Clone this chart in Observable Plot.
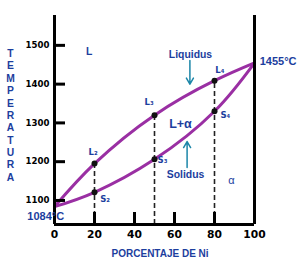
<!DOCTYPE html>
<html>
<head>
<meta charset="utf-8">
<script src="https://cdn.jsdelivr.net/npm/d3@7"></script>
<script src="https://cdn.jsdelivr.net/npm/@observablehq/plot@0.6"></script>
<style>
  html, body { margin: 0; padding: 0; background: #fff; }
  #chart svg { display: block; }
</style>
</head>
<body>
<div id="chart"></div>
<script>
// ---- data ----
const composition = [0, 20, 50, 80, 100];             // % Ni
const liquidusT   = [1084, 1195, 1320, 1409, 1455];   // °C
const solidusT    = [1084, 1121, 1206, 1330, 1455];   // °C
const tieX        = [20, 50, 80];
const tieLiqT     = [1195, 1320, 1409];
const tieSolT     = [1121, 1206, 1330];
const xTicks      = [0, 20, 40, 60, 80, 100];
const yTicks      = [1100, 1200, 1300, 1400, 1500];
const yDomain     = [1038, 1577];

const liquidus = composition.map((x, i) => ({x, T: liquidusT[i]}));
const solidus  = composition.map((x, i) => ({x, T: solidusT[i]}));
const tiePts = tieX.flatMap((x, i) => [{x, T: tieLiqT[i]}, {x, T: tieSolT[i]}]);
const tieRules = tieX.map((x, i) => ({x, T: tieLiqT[i]}));

// annotations (data coordinates)
const bigLabels = [
  {text: "L",        x: 17.3, T: 1483},
  {text: "Liquidus", x: 68,   T: 1477},
  {text: "Solidus",  x: 65.5, T: 1167}
];
const pointLabels = [
  {text: "L₂", x: 19.3, T: 1225},
  {text: "S₂", x: 25.3, T: 1103},
  {text: "L₃", x: 47.3, T: 1354},
  {text: "S₃", x: 54,   T: 1203},
  {text: "L₄", x: 82.7, T: 1436},
  {text: "S₄", x: 85.4, T: 1319}
];
const arrows = [
  {x1: 67.7, y1: 1461, x2: 67.7, y2: 1400},
  {x1: 66.3, y1: 1185, x2: 66.3, y2: 1252}
];

const BLUE = "#1c3e9e";
const TEAL = "#1c86a8";
const PURPLE = "#9a2fa3";
const LABEL_FONT = "'Liberation Sans', Arial, sans-serif";

const plot = Plot.plot({
  width: 306,
  height: 265,
  marginLeft: 54,
  marginRight: 52,
  marginTop: 15,
  marginBottom: 41,
  style: {background: "#fff", overflow: "visible"},
  x: {domain: [0, 100]},
  y: {domain: yDomain},
  marks: [
    // dashed tie-lines
    Plot.ruleX(tieRules, {x: "x", y1: yDomain[0], y2: "T", stroke: "#222", strokeWidth: 1.6, strokeDasharray: "5,3"}),
    // curves
    Plot.line(liquidus, {x: "x", y: "T", curve: "natural", stroke: PURPLE, strokeWidth: 3}),
    Plot.line(solidus, {x: "x", y: "T", curve: "natural", stroke: PURPLE, strokeWidth: 3}),
    Plot.dot(tiePts, {x: "x", y: "T", r: 3, fill: "#111", stroke: "none"}),
    // frame (left, right, bottom)
    Plot.ruleX([0, 100], {stroke: "#000", strokeWidth: 3}),
    Plot.ruleY([yDomain[0]], {stroke: "#000", strokeWidth: 3}),
    // inward ticks
    Plot.tickY(yTicks, {y: d => d, stroke: "#000", strokeWidth: 3, insetRight: 189}),
    Plot.tickX(xTicks.slice(1, -1), {x: d => d, stroke: "#000", strokeWidth: 3, insetTop: 197}),
    // axes labels
    Plot.axisY(yTicks, {tickSize: 0, tickPadding: 5, tickFormat: d => String(d), fontSize: 8.6, fontWeight: "bold", fontFamily: "'DejaVu Sans', Verdana, sans-serif", fill: "#000", label: null}),
    Plot.axisX(xTicks, {tickSize: 0, tickPadding: 6, tickFormat: d => String(d), fontSize: 10.7, fontWeight: "bold", fontFamily: "'DejaVu Sans', Verdana, sans-serif", fill: "#000", label: null}),
    // arrows
    Plot.arrow(arrows, {x1: "x1", y1: "y1", x2: "x2", y2: "y2", stroke: TEAL, strokeWidth: 1.5, headLength: 7}),
    // text
    Plot.text(bigLabels, {x: "x", y: "T", text: "text", fill: BLUE, fontWeight: "bold", fontSize: 10.4, fontFamily: LABEL_FONT}),
    Plot.text(["L+α"], {x: 63, y: 1298, text: d => d, fill: BLUE, fontWeight: "bold", fontSize: 12.5, fontFamily: LABEL_FONT}),
    Plot.text(["α"], {x: 88.5, y: 1152, text: d => d, fill: BLUE, fontSize: 11, fontFamily: LABEL_FONT}),
    Plot.text(pointLabels, {x: "x", y: "T", text: "text", fill: BLUE, fontWeight: "bold", fontSize: 8.5, fontFamily: "'DejaVu Sans', sans-serif"}),
    Plot.text(["1455°C"], {x: 102.6, y: 1459.5, text: d => d, textAnchor: "start", fill: BLUE, fontWeight: "bold", fontSize: 11, fontFamily: LABEL_FONT}),
    Plot.text(["1084°C"], {x: -13.6, y: 1058.5, text: d => d, textAnchor: "start", fill: BLUE, fontWeight: "bold", fontSize: 11, fontFamily: LABEL_FONT}),
    Plot.text(["T\nE\nM\nP\nE\nR\nA\nT\nU\nR\nA"], {x: -22, y: 1320.5, text: d => d, lineHeight: 1.2, fill: BLUE, fontWeight: "bold", fontSize: 10.3, fontFamily: LABEL_FONT}),
    Plot.text(["PORCENTAJE DE Ni"], {x: 52.8, y: yDomain[0], dy: 29.5, text: d => d, fill: BLUE, fontWeight: "bold", fontSize: 10, fontFamily: LABEL_FONT})
  ]
});
document.getElementById("chart").appendChild(plot);
</script>
</body>
</html>
